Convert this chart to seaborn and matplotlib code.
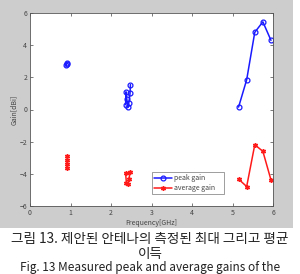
import matplotlib
matplotlib.use("Agg")
import matplotlib.pyplot as plt
from matplotlib.patches import Rectangle
import seaborn as sns
import pandas as pd

# ---- data ----
peak_f1 = [0.90, 0.91, 0.92]
peak_g1 = [2.75, 2.85, 2.90]
peak_f2 = [2.36, 2.37, 2.39, 2.42, 2.44, 2.47, 2.48]
peak_g2 = [0.30, 1.10, 0.65, 0.15, 0.40, 1.00, 1.55]
peak_f3 = [5.15, 5.35, 5.55, 5.75, 5.95]
peak_g3 = [0.15, 1.85, 4.80, 5.45, 4.30]

avg_f1 = [0.92, 0.92, 0.91, 0.91]
avg_g1 = [-2.90, -3.15, -3.40, -3.62]
avg_f2 = [2.36, 2.38, 2.42, 2.44, 2.48]
avg_g2 = [-3.95, -4.55, -4.65, -4.30, -3.90]
avg_f3 = [5.15, 5.35, 5.55, 5.75, 5.95]
avg_g3 = [-4.33, -4.79, -2.19, -2.60, -4.38]

xticks = [0, 1, 2, 3, 4, 5, 6]
yticks = [-6, -4, -2, 0, 2, 4, 6]
xlabel = "Frequency[GHz]"
ylabel = "Gain[dBi]"
caption1 = "그림 13. 제안된 안테나의 측정된 최대 그리고 평균"
caption2 = "이득"
caption3 = "Fig. 13 Measured peak and average gains of the"

sns.set_style("ticks")
plt.rcParams['font.family'] = ['Noto Sans CJK KR', 'DejaVu Sans']

fig = plt.figure(figsize=(3.0, 2.74), dpi=100)
fig.patch.set_facecolor("white")
fig.add_artist(Rectangle((0, (274 - 228) / 274), 293 / 300, 228 / 274,
                         transform=fig.transFigure, facecolor="#cdcdcd",
                         edgecolor="none", zorder=0))
ax = fig.add_axes([30 / 300, (274 - 206) / 274, 243 / 300, 193 / 274])
ax.set_facecolor("white")

blue = "#1a1aff"
red = "#ff1a1a"
ast = (6, 2, 0)

for i, (f, g) in enumerate([(peak_f1, peak_g1), (peak_f2, peak_g2), (peak_f3, peak_g3)]):
    df = pd.DataFrame({"f": f, "g": g})
    sns.lineplot(data=df, x="f", y="g", sort=False, estimator=None, ax=ax,
                 color=blue, marker="o", markersize=3.5, markerfacecolor="none",
                 markeredgecolor=blue, markeredgewidth=0.9, linewidth=1.1,
                 label="peak gain" if i == 0 else None)
for i, (f, g) in enumerate([(avg_f1, avg_g1), (avg_f2, avg_g2), (avg_f3, avg_g3)]):
    df = pd.DataFrame({"f": f, "g": g})
    sns.lineplot(data=df, x="f", y="g", sort=False, estimator=None, ax=ax,
                 color=red, marker=ast, markersize=3.5, markeredgecolor=red,
                 markeredgewidth=1.0, linewidth=1.1,
                 label="average gain" if i == 0 else None)

ax.set_xlim(0, 6)
ax.set_ylim(-6, 6)
ax.set_xticks(xticks)
ax.set_yticks(yticks)
ax.tick_params(direction="in", length=2.5, width=0.5, labelsize=5,
               labelcolor="#444444", color="#444444", top=True, right=True, pad=2)
for s in ax.spines.values():
    s.set_visible(True)
    s.set_linewidth(0.6)
    s.set_color("#555555")
ax.set_xlabel(xlabel, fontsize=5, color="#444444", labelpad=1.5)
ax.set_ylabel(ylabel, fontsize=5, color="#444444", labelpad=1)

leg = ax.legend(loc="lower left", bbox_to_anchor=(0.50, 0.06, 0.30, 0.12),
                mode="expand", fontsize=5, frameon=True, fancybox=False,
                borderpad=0.3, handlelength=2.6, labelspacing=0.3,
                handletextpad=0.4, borderaxespad=0)
leg.get_frame().set_edgecolor("#555555")
leg.get_frame().set_linewidth(0.5)
for t in leg.get_texts():
    t.set_color("#444444")

fig.text(0.5, 1 - 239 / 274, caption1, ha="center", va="center", fontsize=9.8, color="#222222")
fig.text(0.5, 1 - 254 / 274, caption2, ha="center", va="center", fontsize=9.8, color="#222222")
fig.text(0.5, 1 - 268 / 274, caption3, ha="center", va="center", fontsize=8.5, color="#222222")

fig.savefig("out.png", dpi=100)
